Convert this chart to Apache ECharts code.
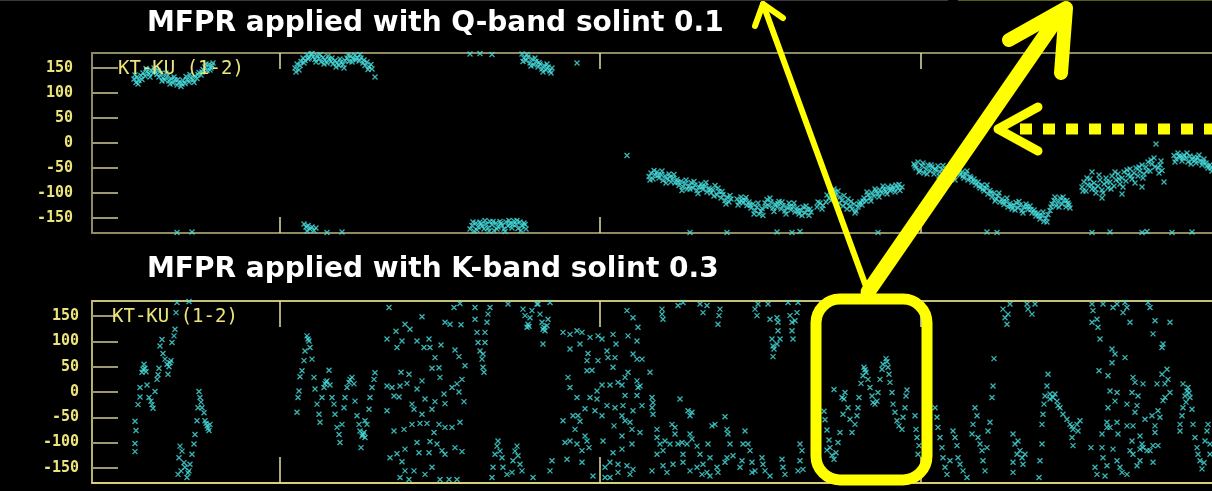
<!DOCTYPE html>
<html><head><meta charset="utf-8">
<script src="https://cdn.jsdelivr.net/npm/echarts@6/dist/echarts.min.js"></script>
<style>html,body{margin:0;padding:0;background:#000;}#c{width:1212px;height:491px;}</style>
</head><body><div id="c"></div>
<script>
// ---- tick labels ----
const yTicks = [-150, -100, -50, 0, 50, 100, 150];
const xTicks = [188, 508, 829, 1149];
const titles = ['MFPR applied with Q-band solint 0.1', 'MFPR applied with K-band solint 0.3'];
const panelLabel = 'KT-KU (1-2)';

// ---- top panel (Q-band solint 0.1): [time index, phase deg] ----
const topA = [[42,128],[44,121],[45,132],[47,125],[49,135],[51,140],[53,134],[55,143],[57,138],[59,146],[61,140],[63,144],[65,137],[67,132],[69,139],[71,130],[73,126],[75,133],[77,124],[79,129],[81,120],[83,126],[85,116],[87,121],[89,113],[91,125],[93,119],[95,127],[97,122],[99,130],[101,126],[103,134],[105,129],[107,141],[109,136],[111,147],[113,152],[115,145],[117,157],[119,150],[121,160],
  [43,136],[46,118],[50,127],[54,149],[58,132],[62,150],[66,145],[70,124],[74,140],[78,118],[82,132],[86,127],[90,118],[94,133],[98,137],[102,121],[106,137],[110,142],[114,158],[118,146],[120,155]];
const topB = [[203,150],[205,158],[207,146],[209,163],[211,170],[213,165],[215,176],[217,170],[219,178],[221,172],[223,167],[225,175],[227,169],[229,162],[231,171],[233,166],[235,160],[237,168],[239,163],[241,158],[243,165],[245,160],[247,155],[249,162],[251,157],[253,165],[255,170],[257,163],[259,174],[261,168],[263,176],[265,171],[267,164],[269,170],[271,160],[273,155],[275,162],[277,152],[280,148],[283,132],
  [204,142],[208,155],[212,160],[216,168],[220,179],[224,162],[228,177],[232,158],[236,174],[240,170],[244,152],[248,168],[252,150],[256,176],[260,162],[264,166],[268,177],[272,166],[276,147],[279,157]];
const topC = [[212,-162],[214,-168],[216,-165],[218,-172],[220,-168],[222,-175],[224,-170],[215,-176],[85,-179],[100,-178],[235,-179],[250,-178]];
const topD = [[378,-172],[380,-165],[382,-176],[384,-160],[386,-168],[388,-158],[390,-166],[392,-172],[394,-162],[396,-170],[398,-157],[400,-164],[402,-175],[404,-160],[406,-168],[408,-157],[410,-165],[412,-172],[414,-158],[416,-166],[418,-161],[420,-170],[422,-156],[424,-163],[426,-171],[428,-158],[430,-166],[432,-160],[434,-172],[378,178],[388,179],[400,177],
  [381,-158],[385,-174],[389,-162],[393,-155],[397,-176],[401,-157],[405,-172],[409,-161],[413,-177],[417,-155],[421,-163],[425,-155],[429,-175],[433,-163]];
const topE = [[430,178],[432,170],[434,165],[436,172],[438,160],[440,168],[442,156],[444,163],[446,152],[448,158],[450,148],[452,155],[454,146],[456,152],[458,144],[460,150],[485,160],[535,-25],
  [431,163],[435,177],[439,154],[443,170],[447,161],[451,142],[455,158],[459,140]];
const topF = [[557,-67],[559,-60],[561,-72],[563,-64],[565,-58],[567,-70],[569,-63],[571,-75],[573,-66],[575,-72],[577,-62],[579,-78],[581,-70],[583,-80],[585,-73],[587,-85],[589,-77],[591,-88],[593,-81],[595,-92],[597,-86],[599,-79],[601,-90],[603,-84],[605,-95],[607,-88],[609,-82],[611,-93],[613,-86],[615,-98],[617,-90],[619,-100],[621,-94],[623,-85],[625,-104],[627,-97],[629,-110],[631,-103],[633,-115],[635,-108],[637,-118],[639,-112],
  [558,-74],[562,-55],[566,-65],[570,-56],[574,-80],[578,-68],[582,-63],[586,-78],[590,-95],[594,-74],[598,-92],[602,-77],[606,-101],[610,-88],[614,-79],[618,-94],[622,-106],[626,-90],[630,-97],[634,-122],[638,-105]];
const topG = [[645,-112],[647,-118],[649,-108],[651,-120],[653,-114],[655,-125],[657,-118],[659,-130],[661,-122],[663,-135],[665,-128],[667,-142],[669,-136],[671,-145],[673,-120],[675,-113],[677,-126],[679,-118],[681,-130],[683,-122],[685,-128],[687,-117],[689,-132],[691,-125],[693,-136],[695,-129],[697,-120],[699,-134],[701,-127],[703,-138],[705,-130],[707,-142],[709,-135],[711,-128],[713,-140],[715,-133],[717,-145],[719,-138],
  [646,-124],[650,-115],[654,-109],[658,-124],[662,-142],[666,-120],[670,-131],[674,-127],[678,-110],[682,-137],[686,-121],[690,-118],[694,-142],[698,-127],[702,-120],[706,-136],[710,-145],[714,-126],[718,-132]];
const topH = [[725,-128],[728,-120],[731,-125],[734,-118],[737,-110],[740,-100],[742,-92],[744,-104],[746,-96],[748,-108],[750,-115],[752,-105],[754,-120],[756,-112],[758,-126],[760,-132],[762,-122],[764,-136],[766,-128],[768,-118],[770,-124],[772,-110],[774,-116],[776,-104],[778,-110],[780,-100],[782,-106],[784,-96],[786,-102],[788,-94],[790,-100],[792,-92],[794,-97],[796,-88],[798,-95],[800,-86],[802,-92],[804,-84],[806,-90],[808,-95],[810,-88],
  [726,-118],[730,-132],[735,-104],[739,-115],[743,-98],[747,-120],[751,-126],[755,-132],[759,-117],[763,-140],[767,-122],[771,-116],[775,-98],[779,-116],[783,-92],[787,-108],[791,-86],[795,-102],[799,-92],[803,-98],[807,-83]];
const topI = [[822,-42],[824,-50],[826,-38],[828,-55],[830,-46],[832,-60],[834,-52],[836,-44],[838,-56],[840,-48],[842,-62],[844,-54],[846,-46],[848,-58],[850,-52],[852,-65],[854,-57],[856,-50],[858,-62],[860,-55],[862,-68],[864,-60],[866,-52],[868,-64],[870,-58],[872,-70],[874,-62],[876,-74],[878,-67],[880,-78],
  [823,-46],[827,-58],[831,-40],[835,-62],[839,-44],[843,-52],[847,-66],[851,-45],[855,-64],[859,-50],[863,-74],[867,-58],[871,-66],[875,-56],[879,-70]];
const topJ = [[882,-72],[884,-84],[886,-78],[888,-90],[890,-84],[892,-96],[894,-90],[896,-102],[898,-95],[900,-108],[902,-100],[904,-112],[906,-106],[908,-118],[910,-112],[912,-123],[914,-117],[916,-128],[918,-121],[920,-132],[922,-125],[924,-119],[926,-130],[928,-124],[930,-135],[932,-128],[934,-122],[936,-133],[938,-126],[940,-140],[942,-134],[944,-146],[946,-140],[948,-152],[950,-145],[952,-157],[954,-150],[956,-143],[958,-135],[960,-122],[962,-115],[964,-126],[966,-118],[968,-110],[970,-122],[972,-115],[974,-128],[976,-120],[978,-130],
  [883,-78],[887,-86],[891,-92],[895,-84],[899,-100],[903,-116],[907,-100],[911,-118],[915,-110],[919,-126],[923,-134],[927,-117],[931,-140],[935,-127],[939,-133],[943,-140],[947,-146],[951,-138],[955,-158],[959,-128],[963,-108],[967,-128],[971,-108],[975,-115],[977,-124]];
const topK = [[990,-88],[992,-78],[994,-96],[996,-84],[998,-72],[1000,-92],[1002,-80],[1004,-100],[1006,-86],[1008,-74],[1010,-94],[1012,-82],[1014,-70],[1016,-90],[1018,-78],[1020,-66],[1022,-86],[1024,-74],[1026,-62],[1028,-82],[1030,-70],[1032,-58],[1034,-76],[1036,-64],[1038,-52],[1040,-72],[1042,-60],[1044,-50],[1046,-66],[1048,-56],[1050,-44],[1052,-62],[1054,-48],[1056,-38],[1058,-56],[1060,-42],[1062,-30],[1064,-2],[1066,-50],[1068,-44],[1070,-55],[1072,-78],[1000,-58],[1010,-110],[1030,-102],[1050,-88],
  [991,-96],[995,-70],[999,-84],[1003,-92],[1007,-64],[1011,-100],[1015,-78],[1019,-92],[1023,-58],[1027,-72],[1031,-88],[1035,-54],[1039,-66],[1043,-80],[1047,-48],[1051,-70],[1055,-56],[1059,-34],[1063,-48],[1067,-60],[1069,-36]];
const topL = [[1082,-25],[1084,-32],[1086,-20],[1088,-28],[1090,-36],[1092,-24],[1094,-30],[1096,-38],[1098,-26],[1100,-33],[1102,-28],[1104,-40],[1106,-30],[1108,-36],[1110,-44],[1112,-32],[1114,-40],[1116,-50],[1118,-44],[1120,-56],
  [1083,-38],[1087,-26],[1091,-30],[1095,-20],[1099,-42],[1103,-34],[1107,-24],[1111,-38],[1115,-46],[1119,-50],
  [598,-179],[635,-179],[685,-178],[700,-179],[708,-177],[786,-179],[895,-178],[905,-179],[1000,-179],[1018,-178],[1050,-179],[1055,-177],[1080,-179],[1100,-178]];

// ---- bottom panel (K-band solint 0.3) ----
const botA = [[43,-58],[44,-76],[43,-102],[43,-118],[46,-25],[48,-10],[48,9],[50,39],[51,45],[52,55],[53,47],[54,40],[55,14],[57,-11],[59,-18],[60,-25],[61,-32],[63,1],[65,25],[66,34],[67,47],[68,91],[70,104],[71,76],[73,65],[75,55],[76,35],[77,50],[78,58],[79,62],[80,98],[82,111],[83,124],[84,157],[85,177],[97,179]];
const botB = [[107,1],[108,-11],[109,-20],[110,-31],[112,-41],[113,-57],[114,-62],[115,-67],[117,-76],[118,-64],[116,-72],[106,-31],[105,-57],[103,-84],[102,-103],[100,-123],[98,-143],[97,-156],[95,-169],[96,-160],[93,-149],[92,-140],[90,-117],[88,-107],[87,-130],[86,-163],[89,-156]];
const botC = [[205,-40],[206,-11],[207,2],[208,30],[210,42],[212,62],[213,81],[215,111],[216,105],[217,101],[218,88],[220,65],[222,29],[223,6],[225,-24],[227,-44],[228,-60],[230,-11],[232,9],[233,16],[234,20],[235,22],[237,43],[238,14],[240,-11],[242,-24],[243,-44],[245,-70],[247,-84],[248,-100],[250,-64],[252,-31],[253,-11],[255,9],[257,19],[258,25],[260,29],[262,16],[263,-18],[265,-47],[267,-64],[268,-77],[270,-87],[271,-84],[272,-80],[273,-90],[275,-64],[277,-34],[278,-11],[280,9],[282,25],[283,38],[269,-110],[273,-57]];
const botD = [[297,167],[295,105],[304,120],[305,88],[310,101],[313,134],[318,124],[325,101],[330,149],[332,88],[337,105],[338,88],[343,68],[349,93],[353,138],[358,134],[362,167],[368,175],[369,133],[363,83],[367,70],[373,52],[295,12],[300,9],[302,-8],[307,-10],[308,12],[315,17],[317,35],[320,-24],[322,-34],[325,6],[330,22],[333,-14],[340,-34],[343,-19],[348,29],[352,-4],[353,-23],[360,9],[365,16],[367,0],[370,25],[372,-19],[347,48],[340,47],[309,39],[295,-37],[302,-77],[312,-74],[320,-64],[328,-62],[330,-44],[335,-62],[342,-80],[347,-64],[353,-70],[360,-70],[368,-60],[313,-113],[325,-100],[327,-120],[337,-120],[338,-98],[345,-103],[350,-116],[353,-123],[363,-110],[370,-118],[298,-130],[305,-122],[310,-138],[313,-156],[322,-156],[333,-163],[340,-149],[348,-173],[357,-173],[365,-173],[317,-173],[308,-169]];
const botE = [[383,167],[383,144],[385,118],[386,98],[388,81],[390,65],[391,49],[392,39],[393,118],[395,138],[396,154],[398,167],[393,98],[391,75],[416,174],[431,164],[433,151],[435,128],[436,134],[437,130],[438,147],[440,161],[445,174],[446,174],[448,154],[450,138],[451,124],[452,128],[453,121],[455,131],[456,144],[451,95],[458,177],[400,-169],[403,-123],[405,-107],[406,-97],[408,-117],[410,-130],[411,-149],[415,-163],[420,-159],[421,-136],[423,-117],[425,-107],[426,-126],[428,-143],[430,-156],[441,-169],[458,-156],[460,-136],[401,-149]];
const botF = [[471,118],[478,114],[485,121],[490,118],[498,108],[506,111],[510,105],[521,114],[535,161],[541,147],[546,128],[536,111],[545,101],[478,85],[488,95],[496,76],[495,62],[506,62],[515,81],[516,68],[524,95],[523,68],[541,75],[550,65],[545,65],[495,42],[500,43],[521,49],[536,39],[558,39],[476,29],[478,9],[510,14],[518,14],[526,19],[530,14],[533,29],[545,22],[546,9],[548,12],[505,2],[485,-11],[498,-11],[505,-14],[533,-7],[545,-7],[560,-11],[561,-21],[560,-31],[561,-44],[515,-27],[523,-31],[531,-27],[541,-37],[550,-27],[481,-47],[486,-47],[488,-58],[493,-33],[503,-37],[510,-47],[530,-47],[533,-57],[538,-60],[471,-57],[483,-74],[493,-87],[495,-97],[497,-110],[490,-116],[478,-97],[473,-100],[485,-103],[511,-97],[522,-67],[530,-87],[540,-74],[548,-80],[540,-103],[530,-113],[521,-120],[475,-133],[490,-139],[501,-166],[513,-149],[518,-139],[526,-143],[535,-146],[541,-153],[526,-159],[518,-169],[538,-163],[513,-169]];
const botG = [[570,164],[570,154],[571,144],[586,171],[591,177],[608,174],[611,157],[615,171],[628,164],[627,151],[626,134],[663,164],[665,151],[666,174],[676,174],[678,144],[685,147],[686,138],[686,121],[680,105],[681,91],[682,85],[681,70],[685,95],[688,105],[696,177],[698,151],[700,138],[703,141],[705,157],[700,121],[701,105],[706,177],[588,-14],[596,-37],[598,-47],[600,-40],[633,-49]];
const botH = [[565,-74],[565,-90],[568,-103],[571,-116],[573,-97],[578,-103],[580,-64],[583,-70],[583,-83],[586,-103],[590,-100],[591,-123],[595,-103],[598,-83],[600,-93],[605,-107],[608,-123],[611,-143],[615,-159],[616,-103],[618,-130],[620,-67],[623,-64],[625,-149],[626,-159],[635,-74],[636,-83],[638,-103],[641,-126],[635,-130],[633,-139],[653,-77],[651,-103],[656,-103],[658,-116],[660,-139],[650,-136],[648,-149],[660,-159],[670,-130],[671,-143],[673,-156],[663,-156],[678,-166],[690,-133],[691,-149],[693,-163],[708,-103],[710,-116],[708,-136],[706,-156],[711,-153],[571,-146],[575,-159],[581,-143],[591,-139],[598,-156],[605,-149],[610,-163],[618,-166],[560,-156],[565,-123]];
const botI = [[732,-38],[733,-55],[735,-75],[737,-95],[738,-110],[740,-125],[742,-133],[744,-120],[746,-100],[748,-80],[735,-115],[742,5],[752,-14],[750,-11],[753,-1],[751,-44],[756,-31],[758,-54],[760,-80],[763,-64],[765,-47],[766,-31],[767,-11],[769,17],[771,32],[772,49],[773,44],[774,39],[776,25],[778,9],[780,-8],[781,-21],[783,-24],[785,-18],[786,-1],[788,25],[790,45],[791,55],[794,66],[795,60],[796,49],[797,35],[798,19],[800,-1],[801,-24],[803,-40],[805,-57],[807,-67],[810,-74],[811,-50],[813,-31],[814,-8],[815,4],[823,-47],[824,-74],[825,-90],[827,-106],[826,-123]];
const botJ = [[843,-31],[845,-50],[846,-70],[848,-90],[850,-110],[851,-130],[853,-149],[855,-163],[858,-136],[861,-77],[863,-90],[865,-106],[866,-130],[868,-143],[871,-156],[875,-169],[880,-83],[881,-64],[883,-31],[885,-47],[886,-90],[888,-103],[890,-116],[891,-136],[893,-156],[895,-110],[896,-77],[898,-60],[900,-11],[901,12],[902,66],[911,164],[913,147],[915,134],[916,154],[918,174],[935,174],[936,164],[940,154],[943,174],[948,-136],[947,-169],[921,-83],[923,-103],[925,-123],[921,-139],[921,-159],[926,-97],[928,-116],[930,-130],[931,-143],[933,-123],[950,-103],[950,-64],[951,-44],[952,-24],[953,-8],[955,12],[956,35],[958,-4],[961,-11],[963,-4],[965,-18],[966,-27],[968,-31],[971,-44],[975,-54],[978,-64],[980,-68],[981,-74],[985,-64],[988,-57],[986,-77],[980,-90],[981,-106],[958,-14]];
const botK = [[1000,174],[1001,161],[1000,138],[1005,144],[1006,128],[1008,105],[1011,174],[1021,167],[1025,174],[1031,157],[1033,177],[1035,167],[1038,138],[1056,177],[1058,167],[1063,141],[1061,115],[1070,88],[1071,95],[1078,138],[1020,85],[1023,75],[1033,68],[1020,58],[1007,42],[1016,32],[1041,29],[1043,19],[1051,16],[1065,16],[1070,35],[1075,45],[1076,25],[1073,16],[1078,-1],[1073,-11],[1071,-17],[1018,2],[1025,-1],[1040,-1],[1046,-8],[1016,-31],[1023,-18],[1035,-24],[1045,-27],[1043,-40],[1035,-67],[1041,-67],[1015,-60],[1015,-70],[1018,-70],[1026,-83],[1025,-60],[1053,-54],[1060,-47],[1063,-67],[1066,-37],[1068,-50],[1048,-87],[1050,-103],[1040,-97],[1038,-116],[1041,-123],[1048,-113],[1051,-110],[1055,-116],[1058,-116],[1061,-106],[1063,-80],[1066,-106],[1061,-139],[1010,-83],[1010,-110],[1011,-130],[1015,-146],[1003,-149],[1005,-163],[1013,-166],[1021,-113],[1025,-136],[1028,-149],[1030,-159],[1035,-163],[1045,-146],[1048,-136],[999,-110]];
const botL = [[1088,-77],[1088,-64],[1090,-47],[1091,-31],[1093,-8],[1095,2],[1096,9],[1091,16],[1098,-11],[1100,-34],[1101,-64],[1103,-90],[1105,-110],[1106,-123],[1108,-136],[1110,-152],[1113,-97],[1115,-77],[1116,-64],[1118,-103],[1118,-123],[1097,-2],[1094,-20],[1112,-140]];

const topData = [].concat(topA, topB, topC, topD, topE, topF, topG, topH, topI, topJ, topK, topL);
const botData = [].concat(botA, botB, botC, botD, botE, botF, botG, botH, botI, botJ, botK, botL);

const YEL = '#ece47a';
const FRAME = '#8e8a62';
const CYAN = '#48e2e2';
const XSYM = 'path://M0,0L10,10M10,0L0,10';

function yAx(grid, lineCol, margin) {
  return { type: 'value', gridIndex: grid, min: -180, max: 180,
    axisLine: { show: true, onZero: false, lineStyle: { color: lineCol, width: 2 } },
    axisTick: { show: true, inside: true, length: 26, customValues: yTicks, lineStyle: { color: '#9c9870', width: 2 } },
    axisLabel: { show: true, customValues: yTicks, margin: margin, color: YEL,
      fontFamily: 'DejaVu Sans Mono', fontWeight: 'bold', fontSize: 15 },
    splitLine: { show: false } };
}
function xAx(grid, pos, lineCol, tickLen) {
  return { type: 'value', gridIndex: grid, position: pos, min: 0, max: 1140,
    axisLine: { show: true, onZero: false, lineStyle: { color: lineCol, width: 2 } },
    axisTick: { show: true, inside: true, length: tickLen, customValues: xTicks, lineStyle: { color: '#e6dfa0', width: 1.5 } },
    axisLabel: { show: false }, splitLine: { show: false } };
}

const chart = echarts.init(document.getElementById('c'), null, { renderer: 'canvas' });
chart.setOption({
  backgroundColor: '#000',
  animation: false,
  title: [
    { text: titles[0], left: 147, top: 10, padding: 0, textStyle: { color: '#fff', fontSize: 28, fontWeight: 'bold', fontFamily: 'DejaVu Sans' } },
    { text: titles[1], left: 147, top: 256, padding: 0, textStyle: { color: '#fff', fontSize: 28, fontWeight: 'bold', fontFamily: 'DejaVu Sans' } },
    { text: panelLabel, left: 118, top: 60, padding: 0, textStyle: { color: YEL, fontSize: 19, fontWeight: 'normal', fontFamily: 'DejaVu Sans Mono' } },
    { text: panelLabel, left: 112, top: 308, padding: 0, textStyle: { color: YEL, fontSize: 19, fontWeight: 'normal', fontFamily: 'DejaVu Sans Mono' } }
  ],
  grid: [
    { left: 92, top: 53, width: 1140, height: 180, outerBoundsMode: 'none' },
    { left: 92, top: 301, width: 1140, height: 182, outerBoundsMode: 'none' }
  ],
  xAxis: [ xAx(0, 'bottom', FRAME, 16), xAx(0, 'top', FRAME, 16), xAx(1, 'bottom', '#d8d078', 26), xAx(1, 'top', '#c8c078', 26) ],
  yAxis: [ yAx(0, FRAME, 19), yAx(1, '#b8b070', 13) ],
  series: [
    { type: 'scatter', xAxisIndex: 0, yAxisIndex: 0, data: topData, symbol: XSYM, symbolSize: 5,
      itemStyle: { color: 'rgba(0,0,0,0)', borderColor: CYAN, borderWidth: 1.3 }, z: 3 },
    { type: 'scatter', xAxisIndex: 2, yAxisIndex: 1, data: botData, symbol: XSYM, symbolSize: 5,
      itemStyle: { color: 'rgba(0,0,0,0)', borderColor: CYAN, borderWidth: 1.3 }, z: 3 }
  ],
  graphic: [
    { type: 'line', z: 50, shape: { x1: 0, y1: 0.5, x2: 948, y2: 0.5 }, style: { stroke: '#3a3a3a', lineWidth: 1 } },
    { type: 'line', z: 50, shape: { x1: 958, y1: 0.5, x2: 1212, y2: 0.5 }, style: { stroke: '#5a5a1a', lineWidth: 1 } },
    { type: 'polyline', z: 100, shape: { points: [[868, 292], [763, 4]] }, style: { stroke: '#ffff00', lineWidth: 6, lineCap: 'round', fill: null } },
    { type: 'polyline', z: 100, shape: { points: [[755, 26], [763, 4], [783, 18]] }, style: { stroke: '#ffff00', lineWidth: 6, lineCap: 'round', lineJoin: 'round', fill: null } },
    { type: 'polyline', z: 100, shape: { points: [[868, 292], [1060, 14]] }, style: { stroke: '#ffff00', lineWidth: 15, lineCap: 'round', fill: null } },
    { type: 'polyline', z: 100, shape: { points: [[1009, 40], [1066, 8], [1061, 73]] }, style: { stroke: '#ffff00', lineWidth: 14, lineCap: 'round', lineJoin: 'round', fill: null } },
    { type: 'line', z: 100, shape: { x1: 1020, y1: 129, x2: 1212, y2: 129 }, style: { stroke: '#ffff00', lineWidth: 11, lineDash: [12, 11], lineCap: 'butt' } },
    { type: 'polyline', z: 100, shape: { points: [[1038, 107], [998, 129], [1038, 151]] }, style: { stroke: '#ffff00', lineWidth: 9, lineCap: 'round', lineJoin: 'round', fill: null } },
    { type: 'rect', z: 100, shape: { x: 816, y: 299, width: 111, height: 181, r: 24 }, style: { stroke: '#ffff00', lineWidth: 11, fill: null } }
  ]
});
</script>
</body></html>
